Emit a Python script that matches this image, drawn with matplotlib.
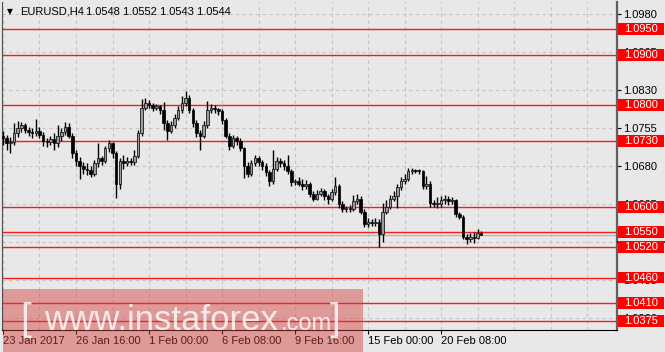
import numpy as np
import matplotlib
matplotlib.use("Agg")
import matplotlib.pyplot as plt
import matplotlib.transforms as mtransforms
from matplotlib.patches import Rectangle

plt.rcParams["font.family"] = ["Liberation Sans", "DejaVu Sans"]

# EURUSD H4 candles
opens = [
    1.0740, 1.0735, 1.0725, 1.0728, 1.0745, 1.0755, 1.0760, 1.0752, 1.0748, 1.0745,
    1.0750, 1.0742, 1.0730, 1.0728, 1.0733, 1.0725, 1.0740, 1.0748, 1.0758, 1.0740,
    1.0705, 1.0690, 1.0680, 1.0675, 1.0672, 1.0665, 1.0685, 1.0695, 1.0690, 1.0715,
    1.0725, 1.0705, 1.0645, 1.0690, 1.0685, 1.0690, 1.0688, 1.0700, 1.0745, 1.0795,
    1.0805, 1.0800, 1.0795, 1.0798, 1.0790, 1.0765, 1.0750, 1.0760, 1.0775, 1.0790,
    1.0805, 1.0815, 1.0790, 1.0765, 1.0745, 1.0740, 1.0760, 1.0790, 1.0795, 1.0792,
    1.0788, 1.0770, 1.0740, 1.0720, 1.0735, 1.0730, 1.0715, 1.0680, 1.0665, 1.0685,
    1.0695, 1.0688, 1.0680, 1.0668, 1.0650, 1.0675, 1.0690, 1.0685, 1.0680, 1.0670,
    1.0648, 1.0650, 1.0645, 1.0640, 1.0645, 1.0625, 1.0615, 1.0625, 1.0630, 1.0620,
    1.0615, 1.0628, 1.0640, 1.0605, 1.0595, 1.0597, 1.0596, 1.0610, 1.0615, 1.0590,
    1.0565, 1.0570, 1.0568, 1.0570, 1.0545, 1.0590, 1.0600, 1.0615, 1.0620, 1.0638,
    1.0650, 1.0655, 1.0670, 1.0672, 1.0671, 1.0670, 1.0640, 1.0645, 1.0608, 1.0605,
    1.0605, 1.0612, 1.0615, 1.0610, 1.0612, 1.0585, 1.0580, 1.0540, 1.0535, 1.0540,
    1.0538, 1.0548,
]
highs = [
    1.0750, 1.0742, 1.0738, 1.0765, 1.0768, 1.0767, 1.0765, 1.0758, 1.0755, 1.0773,
    1.0758, 1.0748, 1.0736, 1.0740, 1.0745, 1.0760, 1.0755, 1.0766, 1.0764, 1.0745,
    1.0712, 1.0698, 1.0688, 1.0685, 1.0680, 1.0692, 1.0725, 1.0700, 1.0720, 1.0732,
    1.0728, 1.0710, 1.0695, 1.0702, 1.0698, 1.0695, 1.0712, 1.0752, 1.0812, 1.0815,
    1.0810, 1.0805, 1.0803, 1.0800, 1.0806, 1.0770, 1.0768, 1.0782, 1.0798, 1.0818,
    1.0828, 1.0820, 1.0795, 1.0770, 1.0752, 1.0768, 1.0808, 1.0802, 1.0800, 1.0795,
    1.0792, 1.0775, 1.0745, 1.0742, 1.0740, 1.0735, 1.0718, 1.0688, 1.0692, 1.0702,
    1.0700, 1.0692, 1.0685, 1.0672, 1.0712, 1.0698, 1.0695, 1.0692, 1.0702, 1.0675,
    1.0655, 1.0658, 1.0655, 1.0652, 1.0648, 1.0630, 1.0632, 1.0636, 1.0634, 1.0625,
    1.0635, 1.0658, 1.0645, 1.0610, 1.0602, 1.0603, 1.0622, 1.0625, 1.0620, 1.0595,
    1.0578, 1.0575, 1.0578, 1.0575, 1.0608, 1.0612, 1.0622, 1.0630, 1.0645, 1.0658,
    1.0665, 1.0676, 1.0676, 1.0675, 1.0674, 1.0673, 1.0660, 1.0650, 1.0612, 1.0618,
    1.0620, 1.0622, 1.0620, 1.0618, 1.0615, 1.0590, 1.0583, 1.0545, 1.0548, 1.0550,
    1.0555, 1.0552,
]
lows = [
    1.0722, 1.0712, 1.0705, 1.0722, 1.0738, 1.0748, 1.0745, 1.0740, 1.0735, 1.0740,
    1.0735, 1.0720, 1.0718, 1.0722, 1.0712, 1.0718, 1.0730, 1.0742, 1.0735, 1.0695,
    1.0680, 1.0655, 1.0665, 1.0662, 1.0658, 1.0660, 1.0678, 1.0682, 1.0685, 1.0708,
    1.0695, 1.0617, 1.0635, 1.0675, 1.0680, 1.0682, 1.0682, 1.0695, 1.0740, 1.0790,
    1.0795, 1.0788, 1.0790, 1.0782, 1.0752, 1.0732, 1.0745, 1.0755, 1.0770, 1.0785,
    1.0798, 1.0785, 1.0758, 1.0738, 1.0712, 1.0735, 1.0755, 1.0785, 1.0785, 1.0780,
    1.0762, 1.0735, 1.0712, 1.0715, 1.0722, 1.0710, 1.0656, 1.0658, 1.0660, 1.0680,
    1.0680, 1.0672, 1.0660, 1.0640, 1.0645, 1.0670, 1.0678, 1.0672, 1.0665, 1.0640,
    1.0642, 1.0640, 1.0632, 1.0635, 1.0618, 1.0610, 1.0612, 1.0620, 1.0612, 1.0605,
    1.0610, 1.0622, 1.0598, 1.0590, 1.0590, 1.0590, 1.0592, 1.0605, 1.0585, 1.0560,
    1.0560, 1.0562, 1.0562, 1.0520, 1.0530, 1.0585, 1.0596, 1.0610, 1.0598, 1.0632,
    1.0645, 1.0650, 1.0665, 1.0666, 1.0665, 1.0635, 1.0635, 1.0600, 1.0600, 1.0598,
    1.0600, 1.0606, 1.0603, 1.0605, 1.0580, 1.0575, 1.0535, 1.0527, 1.0530, 1.0528,
    1.0535, 1.0543,
]
closes = [
    1.0735, 1.0725, 1.0728, 1.0745, 1.0755, 1.0760, 1.0752, 1.0748, 1.0745, 1.0750,
    1.0742, 1.0730, 1.0728, 1.0733, 1.0725, 1.0740, 1.0748, 1.0758, 1.0740, 1.0705,
    1.0690, 1.0680, 1.0675, 1.0672, 1.0665, 1.0685, 1.0695, 1.0690, 1.0715, 1.0725,
    1.0705, 1.0645, 1.0690, 1.0685, 1.0690, 1.0688, 1.0700, 1.0745, 1.0795, 1.0805,
    1.0800, 1.0795, 1.0798, 1.0790, 1.0765, 1.0750, 1.0760, 1.0775, 1.0790, 1.0805,
    1.0815, 1.0790, 1.0765, 1.0745, 1.0740, 1.0760, 1.0790, 1.0795, 1.0792, 1.0788,
    1.0770, 1.0740, 1.0720, 1.0735, 1.0730, 1.0715, 1.0680, 1.0665, 1.0685, 1.0695,
    1.0688, 1.0680, 1.0668, 1.0650, 1.0675, 1.0690, 1.0685, 1.0680, 1.0670, 1.0648,
    1.0650, 1.0645, 1.0640, 1.0645, 1.0625, 1.0615, 1.0625, 1.0630, 1.0620, 1.0615,
    1.0628, 1.0640, 1.0605, 1.0595, 1.0597, 1.0596, 1.0610, 1.0615, 1.0590, 1.0565,
    1.0570, 1.0568, 1.0570, 1.0545, 1.0590, 1.0600, 1.0615, 1.0620, 1.0638, 1.0650,
    1.0655, 1.0670, 1.0672, 1.0671, 1.0670, 1.0640, 1.0645, 1.0608, 1.0605, 1.0605,
    1.0612, 1.0615, 1.0610, 1.0612, 1.0585, 1.0580, 1.0540, 1.0535, 1.0540, 1.0538,
    1.0548, 1.0544,
]

levels = [1.0950, 1.0900, 1.0800, 1.0730, 1.0600, 1.0550, 1.0520, 1.0460, 1.0410, 1.0375]
price_ticks = [1.0380, 1.0455, 1.0530, 1.0605, 1.0680, 1.0755, 1.0830, 1.0905, 1.0980]
date_pos = [0, 20, 40, 60, 80, 100, 120]
date_labels = ["23 Jan 2017", "26 Jan 16:00", "1 Feb 00:00", "6 Feb 08:00",
               "9 Feb 16:00", "15 Feb 00:00", "20 Feb 08:00"]
symbol = "EURUSD,H4"
header_ohlc = [1.0548, 1.0552, 1.0543, 1.0544]
last_price = 1.0544

BG = "#e8e8e8"
W, H = 665, 352

fig = plt.figure(figsize=(W / 100, H / 100), dpi=100)
fig.patch.set_facecolor(BG)
ax = fig.add_axes([2 / W, 22 / H, 615 / W, 328 / H])
ax.set_facecolor(BG)

o = np.array(opens)
h = np.array(highs)
l = np.array(lows)
c = np.array(closes)
idx = np.arange(len(c))
up = c >= o

# grid
ax.set_xticks(np.arange(10, 170, 10), minor=True)
ax.grid(True, which="minor", axis="x", color="#c4c4c4", linestyle=(0, (3, 3)), linewidth=0.8)
ax.grid(True, which="major", axis="both", color="#c4c4c4", linestyle=(0, (3, 3)), linewidth=0.8)

# levels
for lv in levels:
    ax.axhline(lv, color="#ff1a1a", linewidth=1.0, zorder=1.8)
ax.axhline(last_price, color="#b8b8b8", linewidth=1.0, zorder=1.7)

# candles
ax.vlines(idx, l, h, color="black", linewidth=1.0, zorder=3)
body = np.maximum(np.abs(c - o), 0.00012)
bottom = np.minimum(o, c)
ax.bar(idx[~up], body[~up], bottom=bottom[~up], width=0.7, color="black",
       edgecolor="black", linewidth=0.5, zorder=4)
ax.bar(idx[up], body[up], bottom=bottom[up], width=0.7, color="#9a9a9a",
       edgecolor="#1a1a1a", linewidth=0.6, zorder=4)

ax.set_xlim(-0.27, 168.2)
ax.set_ylim(1.03564, 1.10037)

# axes styling
ax.spines["top"].set_visible(False)
ax.spines["left"].set_color("#505050")
ax.spines["right"].set_color("#606060")
ax.spines["right"].set_linewidth(1.6)
ax.spines["bottom"].set_color("black")

ax.yaxis.tick_right()
ax.set_yticks(price_ticks)
ax.set_yticklabels(["%.4f" % v for v in price_ticks])
ax.tick_params(axis="y", which="major", direction="out", length=3, width=0.8,
               pad=1.5, labelsize=8, colors="black")
ax.set_xticks(date_pos)
ax.set_xticklabels(date_labels)
ax.tick_params(axis="x", which="major", direction="out", length=3, width=0.8,
               pad=1.2, labelsize=8, colors="black")
ax.tick_params(axis="x", which="minor", length=0)
for lbl in ax.get_xticklabels():
    lbl.set_horizontalalignment("left")

# bid marker box (mostly hidden behind the red labels) and red price labels
trans = mtransforms.blended_transform_factory(ax.transAxes, ax.transData)
ax.add_patch(Rectangle((1.0016, 1.0531), 0.0748, 0.0019, transform=trans,
                       facecolor=BG, edgecolor="none", clip_on=False, zorder=5))
ax.plot([1.0016, 1.0764], [1.0531, 1.0531], transform=trans, color="black",
        linewidth=1.2, clip_on=False, zorder=5.5)
for lv in levels:
    ax.add_patch(Rectangle((1.0016, lv - 0.00118), 0.0748, 0.00236, transform=trans,
                           facecolor="#ff0000", edgecolor="none", clip_on=False, zorder=6))
    ax.text(1.039, lv, "%.4f" % lv, transform=trans, ha="center", va="center",
            color="white", fontsize=8, zorder=7, clip_on=False)

# header
fig.text(7 / W, 1 - 12 / H, "\u25bc", fontsize=5.5, family="DejaVu Sans",
         va="center", ha="left", color="black")
fig.text(20 / W, 1 - 12 / H, symbol, fontsize=8, va="center", ha="left", color="black")
fig.text(86 / W, 1 - 12 / H, " ".join("%.4f" % v for v in header_ohlc), fontsize=8,
         va="center", ha="left", color="black")

# watermark
fig.add_artist(Rectangle((3 / W, 0), 360 / W, 63 / H, transform=fig.transFigure,
                         facecolor="#d43a3a", edgecolor="none", alpha=0.45, zorder=10))
wm = dict(color="white", alpha=0.8, va="baseline", zorder=11)
fig.text(20 / W, 1 - 330 / H, "[", fontsize=28, **wm)
fig.text(44 / W, 1 - 330 / H, "www.instaforex", fontsize=25, **wm)
fig.text(281 / W, 1 - 330 / H, ".com", fontsize=17, **wm)
fig.text(330 / W, 1 - 330 / H, "]", fontsize=28, **wm)

fig.savefig("out.png", dpi=100, facecolor=BG)
